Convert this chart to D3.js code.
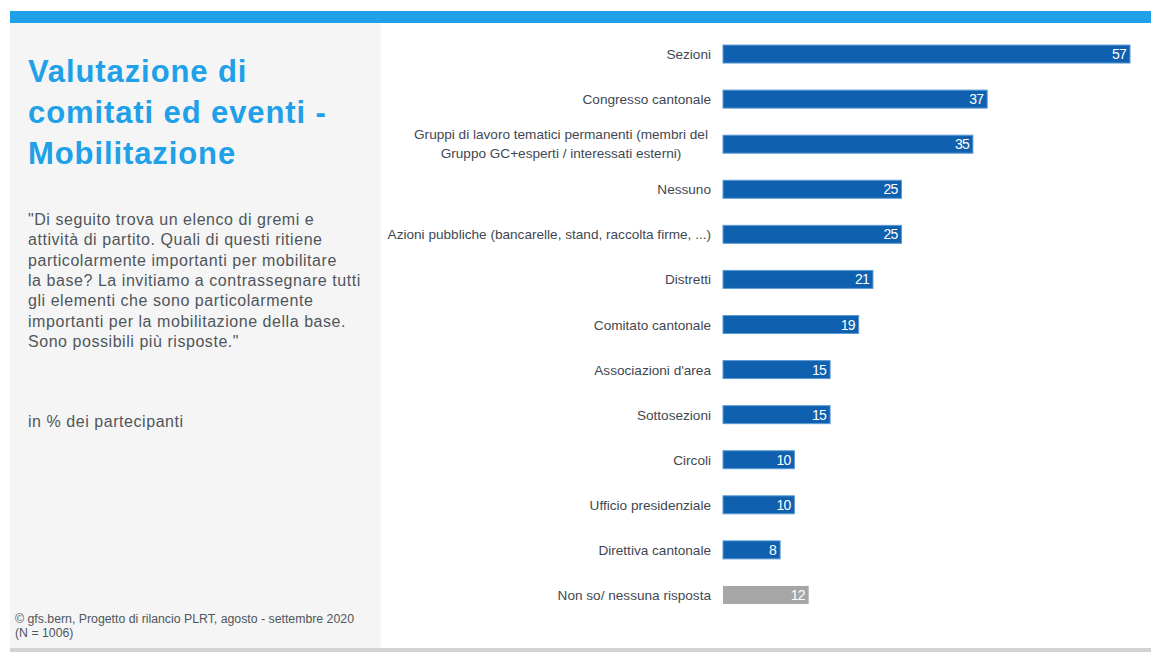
<!DOCTYPE html>
<html><head><meta charset="utf-8">
<script src="https://cdn.jsdelivr.net/npm/d3@7"></script>
<style>
html,body{margin:0;padding:0;background:#fff;}
svg{display:block;font-family:"Liberation Sans",Arial,sans-serif;}
</style></head>
<body>
<svg id="c" width="1151" height="652"></svg>
<script>
const categories = [
  "Sezioni",
  "Congresso cantonale",
  "Gruppi di lavoro tematici permanenti (membri del|Gruppo GC+esperti / interessati esterni)",
  "Nessuno",
  "Azioni pubbliche (bancarelle, stand, raccolta firme, ...)",
  "Distretti",
  "Comitato cantonale",
  "Associazioni d'area",
  "Sottosezioni",
  "Circoli",
  "Ufficio presidenziale",
  "Direttiva cantonale",
  "Non so/ nessuna risposta"
];
const values = [57, 37, 35, 25, 25, 21, 19, 15, 15, 10, 10, 8, 12];
const isNoAnswer = [false,false,false,false,false,false,false,false,false,false,false,false,true];
const titleLines = ["Valutazione di", "comitati ed eventi -", "Mobilitazione"];
const questionLines = [
  "\"Di seguito trova un elenco di gremi e",
  "attività di partito. Quali di questi ritiene",
  "particolarmente importanti per mobilitare",
  "la base? La invitiamo a contrassegnare tutti",
  "gli elementi che sono particolarmente",
  "importanti per la mobilitazione della base.",
  "Sono possibili più risposte.\""
];
const unitNote = "in % dei partecipanti";
const sourceLines = ["©  gfs.bern, Progetto di rilancio PLRT, agosto - settembre 2020", "(N = 1006)"];

const svg = d3.select("#c");
// backgrounds
svg.append("rect").attr("x",10).attr("y",23).attr("width",371).attr("height",625).attr("fill","#f5f5f5");
svg.append("rect").attr("x",10).attr("y",11).attr("width",1141).attr("height",12).attr("fill","#1fa0e8");
svg.append("rect").attr("x",10).attr("y",648).attr("width",1141).attr("height",4).attr("fill","#d2d2d2");

// title
svg.append("g").selectAll("text").data(titleLines).join("text")
  .attr("x",28).attr("y",(d,i)=>82+i*41)
  .attr("font-size",31).attr("font-weight","bold").attr("fill","#20a0e8").attr("letter-spacing","0.9")
  .text(d=>d);

svg.append("g").selectAll("text").data(questionLines).join("text")
  .attr("x",28).attr("y",(d,i)=>225+i*20.3)
  .attr("font-size",16).attr("fill","#50555c").attr("letter-spacing","0.55")
  .text(d=>d);

svg.append("text").attr("x",28).attr("y",427).attr("font-size",16).attr("fill","#50555c").attr("letter-spacing","0.55").text(unitNote);

svg.append("g").selectAll("text").data(sourceLines).join("text")
  .attr("x",15).attr("y",(d,i)=>623+i*14)
  .attr("font-size",12.3).attr("fill","#50555c")
  .text(d=>d);

// chart
const x = d3.scaleLinear().domain([0, d3.max(values)]).range([723, 1130]);
const y = d3.scaleBand().domain(categories).range([31.5, 617.5]).paddingInner(0.6).paddingOuter(0.3);
const bh = 18;
const data = categories.map((c,i)=>({c, v:values[i], na:isNoAnswer[i]}));

const g = svg.append("g");
g.selectAll("rect.bar").data(data).join("rect").attr("class","bar")
  .attr("x",x(0)).attr("y",d=>y(d.c)+y.bandwidth()/2-bh/2)
  .attr("width",d=>x(d.v)-x(0)).attr("height",bh)
  .attr("fill",d=>d.na?"#a6a6a6":"#0f60ae")
  .attr("stroke",d=>d.na?"none":"#5b9bd5").attr("stroke-width",1);

g.selectAll("text.val").data(data).join("text").attr("class","val")
  .attr("x",d=>x(d.v)-4).attr("y",d=>y(d.c)+y.bandwidth()/2+5)
  .attr("text-anchor","end").attr("font-size",14).attr("fill","#fff").attr("letter-spacing","-0.8")
  .text(d=>d.v);

// labels
data.forEach(d=>{
  const cy = y(d.c)+y.bandwidth()/2;
  const lines = d.c.split("|");
  if(lines.length===1){
    g.append("text").attr("x",711).attr("y",cy+5).attr("text-anchor","end")
      .attr("font-size",13.6).attr("fill","#3f4852").text(lines[0]);
  } else {
    lines.forEach((l,i)=>{
      g.append("text").attr("x",561).attr("y",cy-5+i*19).attr("text-anchor","middle")
        .attr("font-size",13.6).attr("fill","#3f4852").text(l);
    });
  }
});
</script>
</body></html>
